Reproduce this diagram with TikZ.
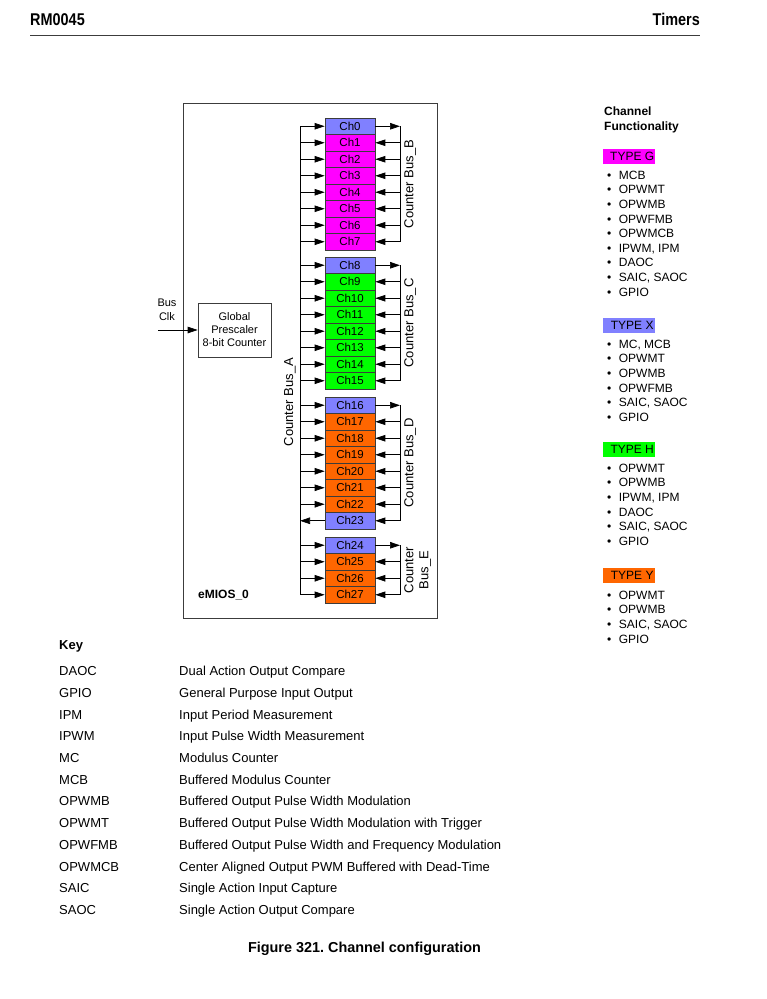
\documentclass[tikz,border=0pt]{standalone}
\usepackage{fontspec}
\setmainfont{Liberation Sans}
\newfontfamily\narrowbold[FakeStretch=0.85]{Liberation Sans Bold}
\usetikzlibrary{arrows.meta}
\definecolor{typeG}{RGB}{255,0,255}
\definecolor{typeX}{RGB}{128,128,255}
\definecolor{typeH}{RGB}{0,255,0}
\definecolor{typeY}{RGB}{255,102,0}
\definecolor{edgegray}{RGB}{60,60,60}
\tikzset{
  chbox/.style={draw=edgegray, line width=0.6pt, minimum width=50pt, minimum height=16.5pt, inner sep=0pt, font=\fontsize{11.5}{11.5}\selectfont},
  sig/.style={-{Triangle[length=10pt,width=6.5pt]}, line width=0.7pt},
  busline/.style={line width=0.7pt},
  buslabel/.style={rotate=90, font=\fontsize{13}{14}\selectfont, inner sep=0pt, align=center},
  typebox/.style={anchor=west, inner sep=0pt, minimum height=15pt, minimum width=52pt, font=\fontsize{12}{12}\selectfont},
  item/.style={anchor=base west, inner sep=0pt, font=\fontsize{12}{12}\selectfont},
  keytxt/.style={anchor=base west, inner sep=0pt, font=\fontsize{13}{13}\selectfont},
}
\begin{document}
\frenchspacing
\begin{tikzpicture}[x=1pt,y=-1pt]
\useasboundingbox (0,0) rectangle (767,999);
% header
\node[anchor=base west, inner sep=0pt, font=\narrowbold\fontsize{17}{17}\selectfont] (hdrL) at (30,25) {RM0045};
\node[anchor=base east, inner sep=0pt, font=\narrowbold\fontsize{17}{17}\selectfont] (hdrR) at (700,25) {Timers};
\draw[line width=1pt, draw=edgegray] (30,35) -- (700,35);
% outer box
\draw[line width=0.7pt, draw=edgegray] (183,103) rectangle (437,618);
\node[anchor=west, inner sep=0pt, font=\bfseries\fontsize{12}{12}\selectfont] (emios) at (198,595) {eMIOS\_0};
% prescaler
\node[draw=edgegray, line width=0.6pt, minimum width=73pt, minimum height=54pt, inner sep=0pt, align=center, font=\fontsize{11}{13}\selectfont] (presc) at (234.5,330) {Global\\Prescaler\\8-bit Counter};
\node[align=center, inner sep=0pt, font=\fontsize{11}{14}\selectfont] (busclk) at (167,310) {Bus\\Clk};
\coordinate (clkin) at (158,330);
\draw[sig] (clkin) -- (presc.west);
% channels
\foreach \g/\gs in {0/118,1/257,2/397,3/537}{
  \foreach \j in {0,...,7}{
    \pgfmathtruncatemacro{\n}{\g*8+\j}
    \ifnum\n<28
      \pgfmathsetmacro{\yc}{\gs+\j*16.5+8.25}
      \ifnum\j=0 \def\fc{typeX}\else
        \ifnum\n<8 \def\fc{typeG}\else
          \ifnum\n<16 \def\fc{typeH}\else
            \ifnum\n=23 \def\fc{typeX}\else \def\fc{typeY}\fi
          \fi
        \fi
      \fi
      \node[chbox, fill=\fc] (ch\n) at (350,\yc) {Ch\n};
      \coordinate (la\n) at (300,\yc);
      \coordinate (rb\n) at (400,\yc);
    \fi
  }
}
% bus A
\draw[busline] (la0) -- (la27);
\foreach \n in {0,...,22,24,25,26,27}{
  \draw[sig] (la\n) -- (ch\n.west);
}
\draw[sig] (ch23.west) -- (la23);
% right buses
\foreach \a/\b in {0/7,8/15,16/23,24/27}{
  \draw[busline] (rb\a) -- (rb\b);
  \draw[sig] (ch\a.east) -- (rb\a);
  \pgfmathtruncatemacro{\s}{\a+1}
  \foreach \n in {\s,...,\b}{
    \draw[sig] (rb\n) -- (ch\n.east);
  }
}
\node[buslabel] (busA) at (290,402) {Counter Bus\_A};
\node[buslabel] (busB) at (410,184) {Counter Bus\_B};
\node[buslabel] (busC) at (410,323) {Counter Bus\_C};
\node[buslabel] (busD) at (410,463) {Counter Bus\_D};
\node[buslabel, font=\fontsize{13}{15}\selectfont] (busE) at (417.5,570) {Counter\\Bus\_E};
% legend
\node[anchor=north west, inner sep=0pt, align=left, font=\bfseries\fontsize{12}{15}\selectfont] (chfun) at (604,107) {Channel\\Functionality};
\node[typebox, fill=typeG] (tG) at (603,156) {\hspace{6pt}TYPE G};
\foreach \t [count=\i from 0] in {MCB,OPWMT,OPWMB,OPWFMB,OPWMCB,{IPWM, IPM},DAOC,{SAIC, SAOC},GPIO}{
  \node[item] (gi\i) at (607,179.3+\i*14.6) {\textbullet\hspace{7.5pt}\t};
}
\node[typebox, fill=typeX] (tX) at (603,325) {\hspace{6pt}TYPE X};
\foreach \t [count=\i from 0] in {{MC, MCB},OPWMT,OPWMB,OPWFMB,{SAIC, SAOC},GPIO}{
  \node[item] (xi\i) at (607,348.3+\i*14.6) {\textbullet\hspace{7.5pt}\t};
}
\node[typebox, fill=typeH] (tH) at (603,449) {\hspace{6pt}TYPE H};
\foreach \t [count=\i from 0] in {OPWMT,OPWMB,{IPWM, IPM},DAOC,{SAIC, SAOC},GPIO}{
  \node[item] (hi\i) at (607,472.3+\i*14.6) {\textbullet\hspace{7.5pt}\t};
}
\node[typebox, fill=typeY] (tY) at (603,575) {\hspace{6pt}TYPE Y};
\foreach \t [count=\i from 0] in {OPWMT,OPWMB,{SAIC, SAOC},GPIO}{
  \node[item] (yi\i) at (607,599.3+\i*14.6) {\textbullet\hspace{7.5pt}\t};
}
% key
\node[anchor=base west, inner sep=0pt, font=\bfseries\fontsize{13}{13}\selectfont] (key) at (59,649.7) {Key};
\foreach \a/\b [count=\i from 0] in {DAOC/Dual Action Output Compare,GPIO/General Purpose Input Output,IPM/Input Period Measurement,IPWM/Input Pulse Width Measurement,MC/Modulus Counter,MCB/Buffered Modulus Counter,OPWMB/Buffered Output Pulse Width Modulation,OPWMT/Buffered Output Pulse Width Modulation with Trigger,OPWFMB/Buffered Output Pulse Width and Frequency Modulation,OPWMCB/Center Aligned Output PWM Buffered with Dead-Time,SAIC/Single Action Input Capture,SAOC/Single Action Output Compare}{
  \node[keytxt] (ka\i) at (59,675.7+\i*21.7) {\a};
  \node[keytxt] (kb\i) at (179,675.7+\i*21.7) {\b};
}
\node[inner sep=0pt, font=\bfseries\fontsize{14.4}{14.4}\selectfont] (cap) at (364.5,949) {Figure 321. Channel configuration};
\end{tikzpicture}
\end{document}
